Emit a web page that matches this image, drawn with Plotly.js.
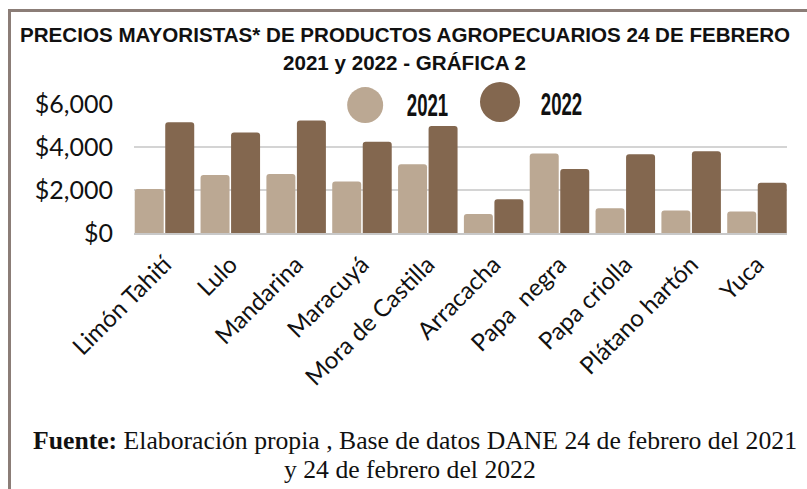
<!DOCTYPE html>
<html>
<head>
<meta charset="utf-8">
<script src="https://cdn.plot.ly/plotly-3.0.1.min.js"></script>
<style>
  html, body { margin: 0; padding: 0; background: #ffffff; }
  #wrap { position: relative; width: 807px; height: 489px; overflow: hidden; }
  #chart { position: absolute; left: 0; top: 0; width: 807px; height: 489px; }
  #frame { position: absolute; left: 8px; top: 9px; width: 820px; height: 500px;
           border-top: 3px solid #8b7d77; border-left: 3px solid #8b7d77;
           pointer-events: none; z-index: 5; }
</style>
</head>
<body>
<div id="wrap">
  <div id="chart"></div>
  <div id="frame"></div>
</div>
<script>
// ---- Data ----
const categories = ['Limón Tahití', 'Lulo', 'Mandarina', 'Maracuyá', 'Mora de Castilla',
                    'Arracacha', 'Papa\u00a0\u00a0negra', 'Papa criolla', 'Plátano hartón', 'Yuca'];
const values2021 = [2050, 2700, 2750, 2400, 3200, 880, 3700, 1150, 1050, 1000];
const values2022 = [5150, 4670, 5230, 4250, 4980, 1570, 2980, 3660, 3800, 2340];
const seriesNames = ['2021', '2022'];
const yTickValues = [0, 2000, 4000, 6000];
const titleLine1 = 'PRECIOS MAYORISTAS* DE PRODUCTOS AGROPECUARIOS 24 DE FEBRERO';
const titleLine2 = '2021 y 2022 - GRÁFICA 2';
const sourceLine1 = '<b>Fuente:</b> Elaboración propia , Base de datos DANE 24 de febrero del 2021';
const sourceLine2 = 'y 24 de febrero del 2022';

const color2021 = '#BBA893';
const color2022 = '#83674F';

const traces = [
  { type: 'bar', name: seriesNames[0], x: categories, y: values2021,
    marker: { color: color2021 }, hoverinfo: 'x+y' },
  { type: 'bar', name: seriesNames[1], x: categories, y: values2022,
    marker: { color: color2022 }, hoverinfo: 'x+y' }
];

const geoFont = 'Lato, "Open Sans", "DejaVu Sans", sans-serif';
const narrowFont = '"Liberation Sans Narrow", "Liberation Sans", Arial, sans-serif';

const layout = {
  width: 807, height: 489,
  margin: { l: 134, r: 20, t: 104, b: 256 },
  paper_bgcolor: '#ffffff', plot_bgcolor: '#ffffff',
  showlegend: false,
  barmode: 'group',
  bargap: 0.073,
  bargroupgap: 0.05,
  barcornerradius: 3,
  xaxis: {
    type: 'category',
    range: [-0.463, 9.456],
    tickangle: -45,
    tickfont: { family: geoFont, size: 24, color: '#111111' },
    showgrid: false,
    showline: true, linecolor: '#c8c8c8', linewidth: 2,
    ticks: '', ticklabelstandoff: 6,
    fixedrange: true
  },
  yaxis: {
    range: [0, 6000],
    tickvals: yTickValues,
    tickformat: '$,.0f',
    tickfont: { family: geoFont, size: 25, color: '#111111' },
    showgrid: true, gridcolor: '#d4d4d4', gridwidth: 1.5,
    zeroline: false,
    ticks: '', ticklabelstandoff: 20,
    fixedrange: true
  },
  shapes: [
    { type: 'circle', layer: 'above', xref: 'paper', yref: 'paper',
      xsizemode: 'pixel', ysizemode: 'pixel', xanchor: 0.354, yanchor: 0.992,
      x0: -18, x1: 18, y0: -18, y1: 18,
      fillcolor: color2021, line: { width: 0 } },
    { type: 'circle', layer: 'above', xref: 'paper', yref: 'paper',
      xsizemode: 'pixel', ysizemode: 'pixel', xanchor: 0.5605, yanchor: 1.016,
      x0: -20, x1: 20, y0: -20, y1: 20,
      fillcolor: color2022, line: { width: 0 } }
  ],
  annotations: [
    { text: '<b>' + titleLine1 + '</b>', xref: 'paper', yref: 'paper', x: 0.415, y: 1.535,
      xanchor: 'center', yanchor: 'middle', showarrow: false,
      font: { family: '"Liberation Sans", Arial, sans-serif', size: 20.6, color: '#111111' } },
    { text: '<b>' + titleLine2 + '</b>', xref: 'paper', yref: 'paper', x: 0.415, y: 1.318,
      xanchor: 'center', yanchor: 'middle', showarrow: false,
      font: { family: '"Liberation Sans", Arial, sans-serif', size: 20.6, color: '#111111' } },
    { text: '<b>' + seriesNames[0] + '</b>', xref: 'paper', yref: 'paper', x: 0.450, y: 0.992,
      xanchor: 'center', yanchor: 'middle', showarrow: false,
      font: { family: narrowFont, size: 31, color: '#111111' } },
    { text: '<b>' + seriesNames[1] + '</b>', xref: 'paper', yref: 'paper', x: 0.654, y: 1.0,
      xanchor: 'center', yanchor: 'middle', showarrow: false,
      font: { family: narrowFont, size: 31, color: '#111111' } },
    { text: sourceLine1, xref: 'paper', yref: 'paper', x: 0.431, y: -1.612,
      xanchor: 'center', yanchor: 'middle', showarrow: false,
      font: { family: '"Liberation Serif", "DejaVu Serif", serif', size: 25.7, color: '#111111' } },
    { text: sourceLine2, xref: 'paper', yref: 'paper', x: 0.423, y: -1.837,
      xanchor: 'center', yanchor: 'middle', showarrow: false,
      font: { family: '"Liberation Serif", "DejaVu Serif", serif', size: 25.7, color: '#111111' } }
  ]
};

Plotly.newPlot('chart', traces, layout, { displayModeBar: false, staticPlot: true }).then(function () {
  // condense the legend labels horizontally (the original uses a narrow display face)
  const anns = document.querySelectorAll('#chart .annotation');
  [2, 3].forEach(function (i) {
    const t = anns[i] && anns[i].querySelector('text');
    if (t) {
      t.style.transformBox = 'fill-box';
      t.style.transformOrigin = 'center';
      t.style.transform = 'scaleX(0.6)';
    }
  });
});
</script>
</body>
</html>
